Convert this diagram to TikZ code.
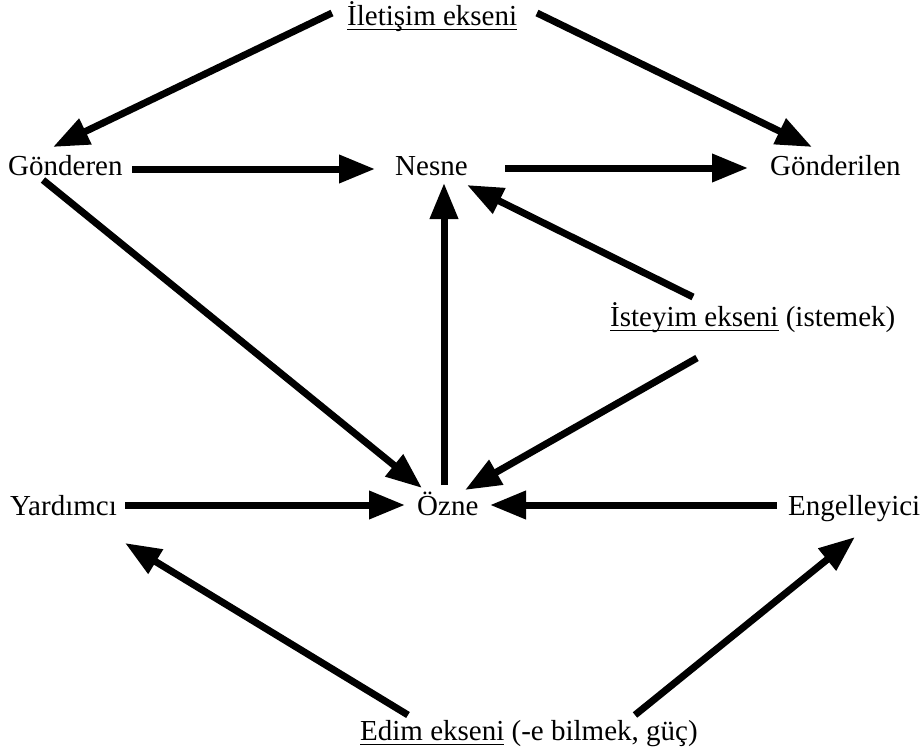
\documentclass[tikz,border=0pt]{standalone}
\usepackage{fontspec}
\setmainfont{Liberation Serif}
\usetikzlibrary{arrows.meta}

% underline at a fixed depth, ignoring descenders
\newcommand{\ulax}[1]{\setbox0\hbox{#1}\rlap{\rule[-5.25pt]{\wd0}{1.5pt}}\box0\relax}

\begin{document}
\begin{tikzpicture}[x=1pt, y=-1pt,
  actant/.style={inner sep=0pt, anchor=base west, font=\fontsize{29}{34}\selectfont},
  link/.style={line width=7pt, -{Triangle[length=36pt, width=27pt]}}]

\useasboundingbox (0,0) rectangle (922,755);

% axes
\node [actant] (ilet) at (347,25) {\ulax{İletişim ekseni}};
\node [actant] (istek) at (610,326) {\ulax{İsteyim ekseni} (istemek)};
\node [actant] (edim) at (360,740) {\ulax{Edim ekseni} (-e bilmek, güç)};

% actants
\node [actant] (gond) at (8,175) {Gönderen};
\node [actant] (nesne) at (395,175) {Nesne};
\node [actant] (gondl) at (770,175) {Gönderilen};
\node [actant] (yard) at (10,515) {Yardımcı};
\node [actant] (ozne) at (417,515) {Özne};
\node [actant] (engel) at (788,515) {Engelleyici};

% communication axis
\draw [link] ([shift={(-15,-12)}]ilet.base west) -- ([shift={(45,-28)}]gond.base west);
\draw [link] ([shift={(190,-12)}]ilet.base west) -- ([shift={(42,-28)}]gondl.base west);
\draw [link] ([shift={(124,-6)}]gond.base west) -- ([shift={(-20,-6)}]nesne.base west);
\draw [link] ([shift={(110,-7)}]nesne.base west) -- ([shift={(-22,-7)}]gondl.base west);

% desire axis
\draw [link] ([shift={(83,-29)}]istek.base west) -- ([shift={(72,10)}]nesne.base west);
\draw [link] ([shift={(87,32)}]istek.base west) -- ([shift={(48,-25)}]ozne.base west);
\draw [link] ([shift={(35,5)}]gond.base west) -- ([shift={(5,-27)}]ozne.base west);
\draw [link] ([shift={(27,-30)}]ozne.base west) -- ([shift={(49,8)}]nesne.base west);

% power axis
\draw [link] ([shift={(115,-10)}]yard.base west) -- ([shift={(-12,-10)}]ozne.base west);
\draw [link] ([shift={(-11,-10)}]engel.base west) -- ([shift={(73,-10)}]ozne.base west);
\draw [link] ([shift={(48,-25)}]edim.base west) -- ([shift={(115,28)}]yard.base west);
\draw [link] ([shift={(275,-25)}]edim.base west) -- ([shift={(67,22)}]engel.base west);

\end{tikzpicture}
\end{document}
